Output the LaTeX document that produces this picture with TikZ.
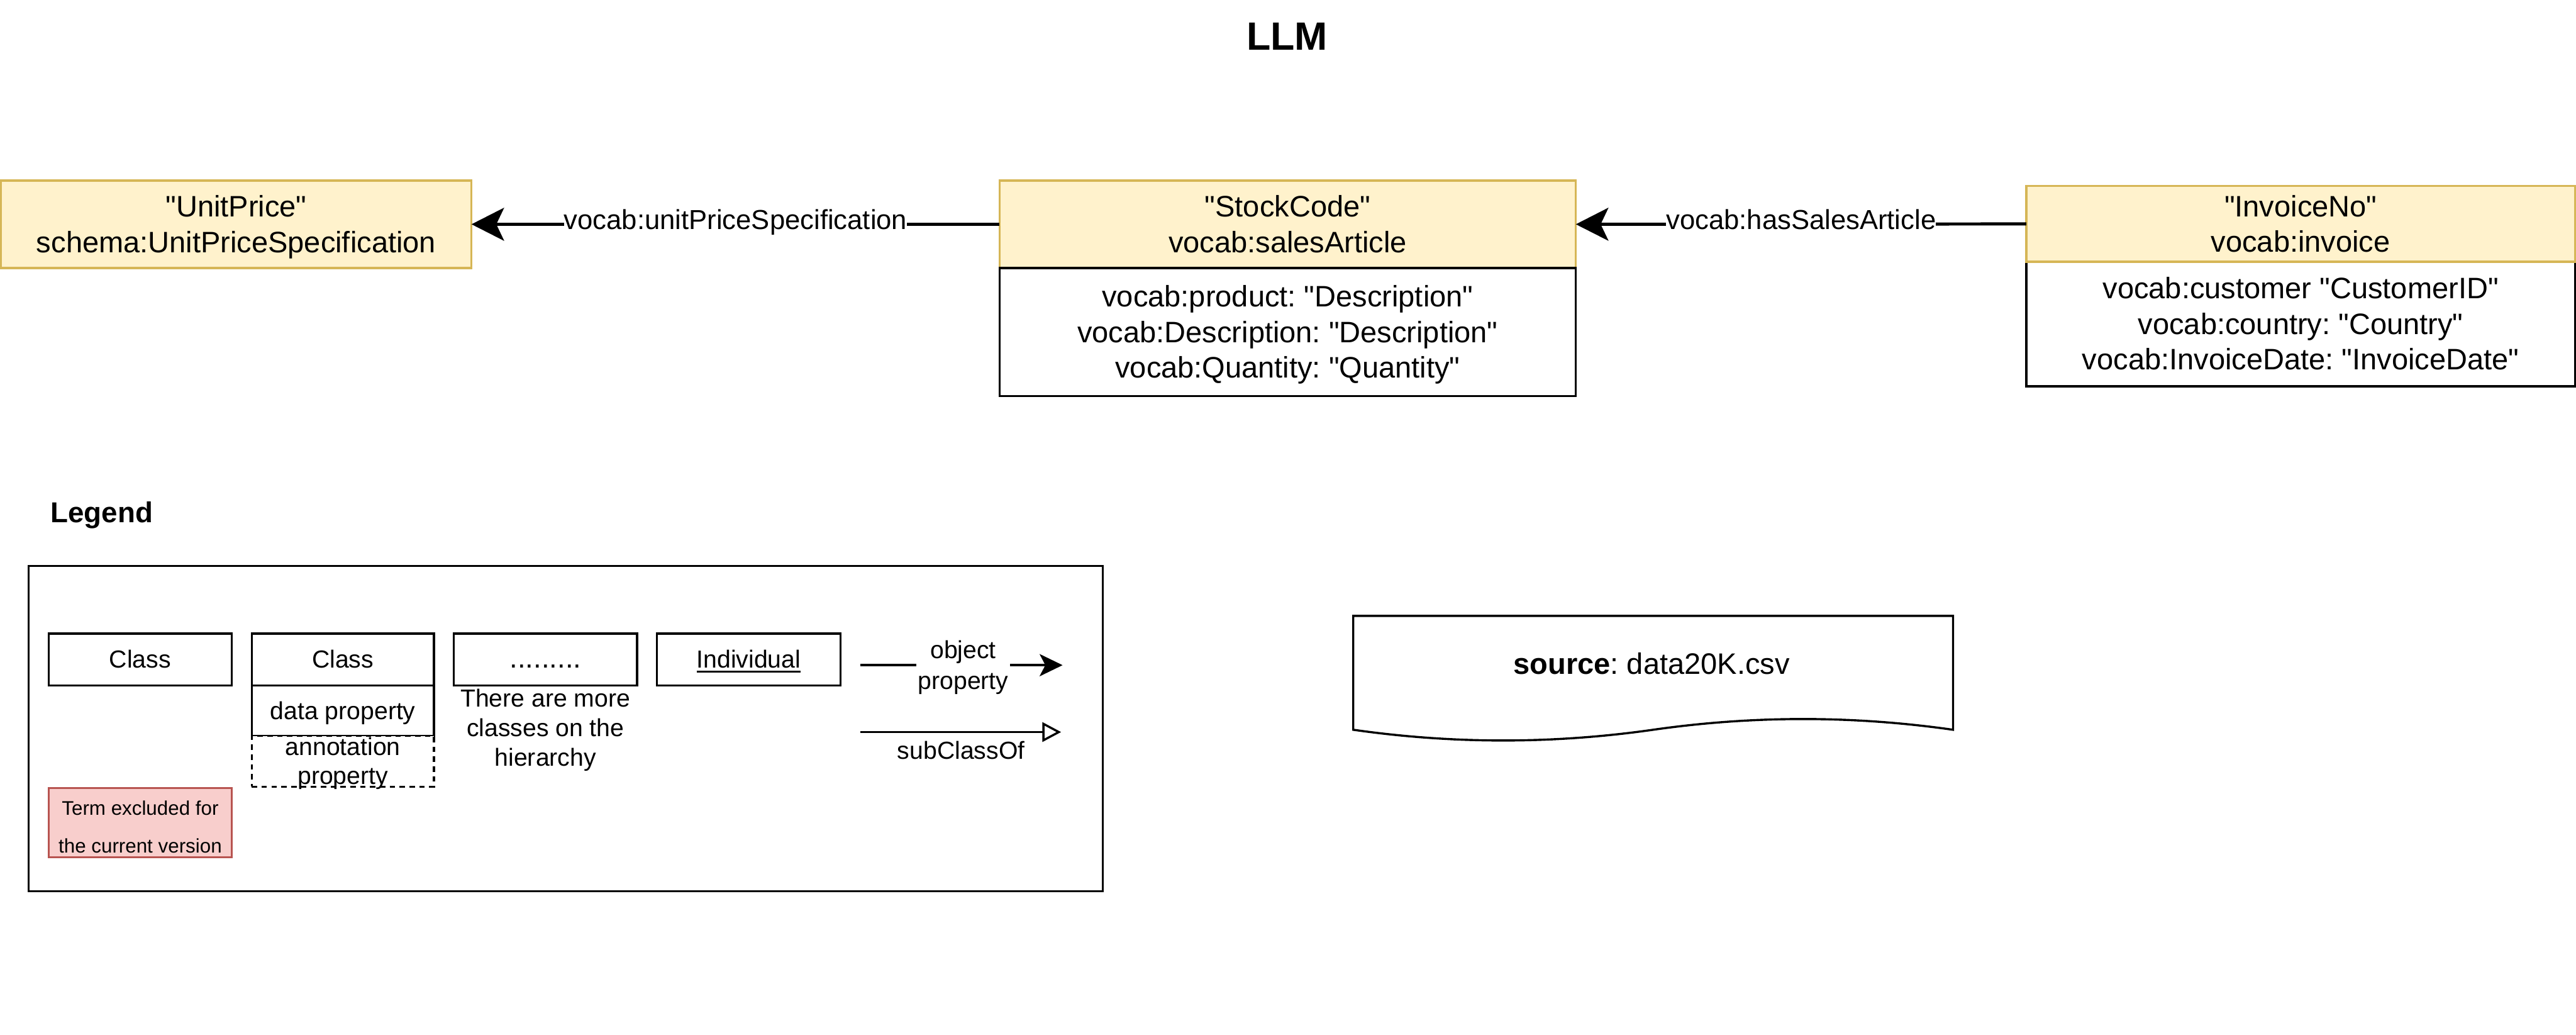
\documentclass[tikz,border=0pt]{standalone}
\usepackage{fontspec}
\setmainfont{Liberation Sans}[Ligatures=TeXOff]
\usetikzlibrary{arrows.meta}
\definecolor{yfill}{HTML}{FFF2CC}
\definecolor{ydraw}{HTML}{D6B656}
\definecolor{rfill}{HTML}{F8CECC}
\definecolor{rdraw}{HTML}{B85450}
\frenchspacing
\newcommand\lst{\rule[-0.21\baselineskip]{0pt}{\baselineskip}}
\newcommand\qq[1]{"#1"}
\newcommand\myul[1]{\setbox0\hbox{#1}\rlap{\rule[-2.9pt]{\wd0}{1.2pt}}\box0}
\begin{document}
\frenchspacing
\begin{tikzpicture}[x=1pt,y=-1pt,
  box/.style={rectangle, inner sep=0pt, outer sep=0pt, line width=1.3pt, align=center,
    font=\fontsize{18}{21.6}\selectfont, anchor=north west},
  hdr/.style={box, draw=ydraw, fill=yfill},
  att/.style={box, draw=black, fill=white},
  lbox/.style={box, draw=black, fill=white, font=\fontsize{15}{18}\selectfont},
  edge/.style={line width=1.9pt, -{Stealth[length=19.8pt,width=20pt,inset=4.7pt]}},
  elabel/.style={fill=white, inner sep=0pt, anchor=base, yshift=-3pt,
    font=\fontsize{16.7}{20}\selectfont},
  legarrow/.style={line width=1.3pt, -{Stealth[length=14pt,width=13.5pt,inset=3.5pt]}},
  subarrow/.style={line width=1.3pt, -{Triangle[length=11.4pt,width=11.8pt,fill=white]}},
  ltext/.style={inner sep=0pt, align=center, font=\fontsize{15}{18}\selectfont},
]
\useasboundingbox (0,0) rectangle (1568,629.6);

% title
\node[anchor=base, inner sep=0pt, font=\bfseries\fontsize{24}{28}\selectfont] (title) at (783.5,30.4) {LLM};

% UnitPrice
\node[hdr, minimum width=286.5pt, minimum height=53.3pt] (unit) at (0.5,109.8)
  {\lst\qq{UnitPrice}\\\lst schema:UnitPriceSpecification};

% StockCode
\node[hdr, minimum width=350.8pt, minimum height=53.3pt] (stock) at (608.4,109.8)
  {\lst\qq{StockCode}\\\lst vocab:salesArticle};
\node[att, minimum width=350.8pt, minimum height=77.9pt] (stockatt) at (608.4,163.1)
  {\lst vocab:product: \qq{Description}\\\lst vocab:Description: \qq{Description}\\\lst vocab:Quantity: \qq{Quantity}};

% InvoiceNo
\node[att, minimum width=334pt, minimum height=75.7pt] (invatt) at (1233.4,159.3)
  {\lst vocab:customer \qq{CustomerID}\\\lst vocab:country: \qq{Country}\\\lst vocab:InvoiceDate: \qq{InvoiceDate}};
\node[hdr, minimum width=334pt, minimum height=46.1pt] (inv) at (1233.4,113.2)
  {\lst\qq{InvoiceNo}\\\lst vocab:invoice};

% edges
\draw[edge] (stock.west) -- (unit.east) node[midway, elabel] {vocab:unitPriceSpecification};
\draw[edge] (inv.west) -- (stock.east) node[midway, elabel] {vocab:hasSalesArticle};

% Legend
\node[anchor=base west, inner sep=0pt, font=\bfseries\fontsize{17.5}{21}\selectfont] (legtitle) at (30.6,317.9) {Legend};
\node[box, draw=black, minimum width=653.8pt, minimum height=198pt] (legframe) at (17.5,344.3) {};

\node[lbox, minimum width=111.3pt, minimum height=31.5pt] (c1) at (29.7,385.5) {\lst Class};
\node[lbox, minimum width=111pt, minimum height=31.5pt] (c2) at (153.2,385.5) {\lst Class};
\node[lbox, minimum width=111pt, minimum height=30.8pt] (dp) at (153.2,417) {\lst data property};
\node[lbox, dashed, dash pattern=on 3.3pt off 2.7pt, minimum width=111pt, minimum height=30.8pt] (ann) at (153.2,447.8) {};
\node[ltext, font=\fontsize{15}{17.5}\selectfont] (anntext) at (ann.center) {\lst annotation\\\lst property};
\node[lbox, minimum width=111.5pt, minimum height=31.5pt, font=\fontsize{17.4}{18}\selectfont] (c3) at (276.3,385.5) {\lst .........};
\node[ltext] (more) at (332,442.9) {\lst There are more\\\lst classes on the\\\lst hierarchy};
\node[lbox, minimum width=111.8pt, minimum height=31.5pt] (c4) at (399.8,385.5) {\lst\myul{Individual}};

\node[box, draw=rdraw, fill=rfill, minimum width=111.3pt, minimum height=42.1pt,
  font=\fontsize{12}{22.8}\selectfont] (excl) at (29.7,479.5)
  {\rule{0pt}{13.8pt}Term excluded for\\the current version};

\coordinate (op1) at (523.7,404.7);
\coordinate (op2) at (646.8,404.7);
\draw[legarrow] (op1) -- (op2) node[pos=0.5085, ltext, fill=white, inner xsep=1pt, font=\fontsize{15}{18.6}\selectfont] (oplabel) {\lst object\\\lst property};

\coordinate (sc1) at (523.7,445.4);
\coordinate (sc2) at (645.9,445.4);
\draw[subarrow] (sc1) -- (sc2);
\node[anchor=base, inner sep=0pt, font=\fontsize{15}{18}\selectfont] (sclabel) at (585,461.8) {subClassOf};

% source document shape
\draw[line width=1.3pt, fill=white, line join=miter] (823.7,374.7) -- (1188.8,374.7) -- (1188.8,444)
  .. controls (1127.9,435.3) and (1067.1,435.3) .. (1006.25,444)
  .. controls (945.4,452.7) and (884.5,452.7) .. (823.7,444) -- cycle;
\node[anchor=base, inner sep=0pt, font=\fontsize{18}{21.6}\selectfont] (src) at (1005.3,410.2) {\textbf{source}: data20K.csv};

\end{tikzpicture}
\end{document}
